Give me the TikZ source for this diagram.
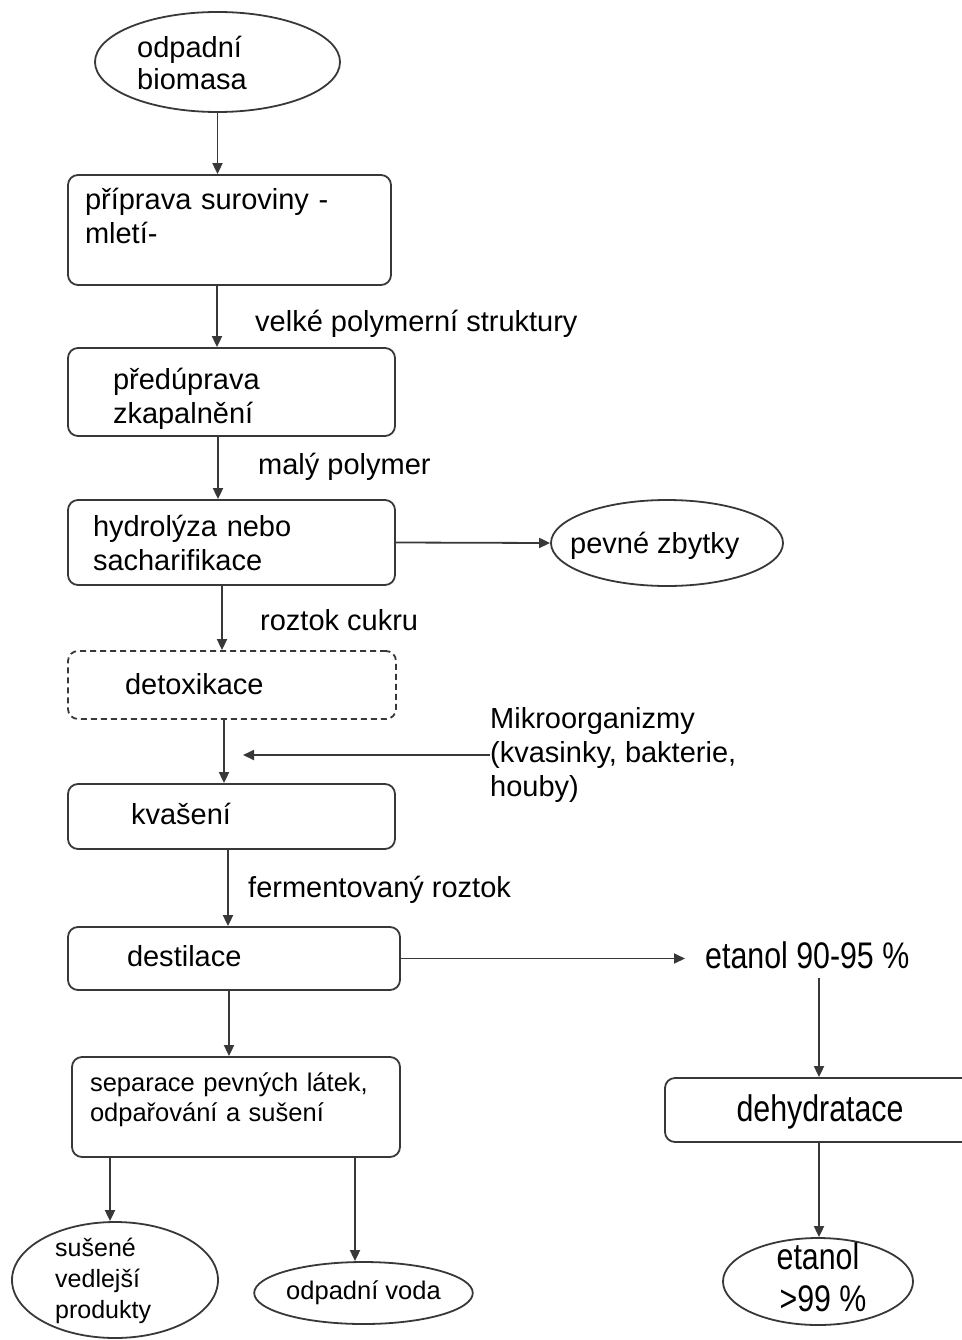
\documentclass[tikz,border=0pt]{standalone}
\usepackage{fontspec}
\setmainfont{Liberation Sans}
\newfontfamily\narrowfont{Liberation Sans}[FakeStretch=0.82]
\usetikzlibrary{arrows.meta,shapes.geometric}
\newcommand\fsmain{\fontsize{29}{34}\selectfont}
\newcommand\fsbio{\fontsize{29}{32}\selectfont}
\newcommand\fssmall{\fontsize{25.5}{30}\selectfont}
\newcommand\fssus{\fontsize{25}{31}\selectfont}
\newcommand\fsnarrow{\narrowfont\fontsize{37}{42}\selectfont}
\begin{document}
\begin{tikzpicture}[x=1pt,y=-1pt,
  lineclr/.style={draw=black!78, line width=1.8pt},
  box/.style={lineclr, rectangle, rounded corners=10pt, align=left, font=\fsmain, inner ysep=0pt},
  ell/.style={lineclr, ellipse, inner sep=0pt},
  txt/.style={inner sep=0pt, font=\fsmain, text=black},
  arr/.style={draw=black!78, line width=1.8pt, -{Triangle[length=11pt,width=10pt]}}
]
\useasboundingbox (0,0) rectangle (961,1340);

% column coordinates
\coordinate (x110) at (110,0);
\coordinate (x217) at (217,0);
\coordinate (x218) at (218,0);
\coordinate (x222) at (222,0);
\coordinate (x224) at (224,0);
\coordinate (x228) at (228,0);
\coordinate (x229) at (229,0);
\coordinate (x355) at (355,0);
\coordinate (x819) at (819,0);

% main column
\node[ell, minimum width=245, minimum height=100] (bio) at (217.5,62) {};
\node[txt, font=\fsbio, anchor=base west, align=left] (biot) at (137,90) {odpadní\\biomasa};

\node[box, minimum width=323, minimum height=110, text width=289, inner xsep=17] (prip) at (229.5,230) {příprava suroviny -\\mletí-\\[-6pt]\mbox{}};

\node[box, minimum width=327, minimum height=88, text width=237, inner xsep=45] (pred) at (231.5,392) {předúprava\\zkapalnění\\[-42pt]\mbox{}};

\node[box, minimum width=327, minimum height=85, text width=277, inner xsep=25] (hydro) at (231.5,542.5) {hydrolýza nebo\\sacharifikace};

\node[box, dash pattern=on 6pt off 4pt, minimum width=328, minimum height=68, text width=214, inner xsep=57, text height=25, text depth=6] (detox) at (232,685) {detoxikace};

\node[box, minimum width=327, minimum height=65, text width=201, inner xsep=63, text height=21, text depth=6] (kvas) at (231.5,816.5) {kvašení};

\node[box, minimum width=332, minimum height=63, text width=214, inner xsep=59, text height=22, text depth=6] (dest) at (234,958.5) {destilace};

\node[box, font=\fssmall, minimum width=328, minimum height=100, text width=292, inner xsep=18] (sep) at (236,1107) {separace pevných látek,\\odpařování a sušení\\[-10pt]\mbox{}};

% side nodes
\node[ell, minimum width=232, minimum height=86] (pevne) at (667,543) {};
\node[txt, anchor=base west] (pevnet) at (570,553) {pevné zbytky};

\node[txt, anchor=base west, align=left] (mik) at (490,796) {Mikroorganizmy\\(kvasinky, bakterie,\\houby)};
\coordinate (mikend) at (243,755);

\node[txt, font=\fsnarrow, anchor=base west, inner xsep=20pt, inner ysep=9pt] (et1) at (685,968) {etanol 90-95 \%};

\node[box, font=\fsnarrow, align=center, minimum width=310, minimum height=64, inner sep=0pt, text height=31, text depth=8] (dehy) at (820,1110) {dehydratace};

\node[ell, minimum width=190, minimum height=87] (et99) at (818,1281.5) {};
\node[txt, font=\fsnarrow, align=center] (et99t) at (818,1277.5) {etanol\\\hspace*{10pt}>99 \%};

\node[ell, minimum width=206, minimum height=116] (sus) at (115,1280) {};
\node[txt, font=\fssus, anchor=base west, align=left] (sust) at (55,1318) {sušené\\vedlejší\\produkty};

\node[ell, font=\fssmall, minimum width=217, minimum height=62, text height=18, text depth=5] (voda) at (363.5,1293) {odpadní voda};

% edge labels
\node[txt, anchor=base west] (l1) at (255,331) {velké polymerní struktury};
\node[txt, anchor=base west] (l2) at (258,474) {malý polymer};
\node[txt, anchor=base west] (l3) at (260,630) {roztok cukru};
\node[txt, anchor=base west] (l4) at (248,897) {fermentovaný roztok};

% connectors
\draw[arr] (bio.south) -- (prip.north -| bio.south);
\draw[arr] (prip.south -| x217) -- (pred.north -| x217);
\draw[arr] (pred.south -| x218) -- (hydro.north -| x218);
\draw[arr] (hydro.east) -- (pevne.west);
\draw[arr] (hydro.south -| x222) -- (detox.north -| x222);
\draw[arr] (detox.south -| x224) -- (kvas.north -| x224);
\draw[arr] (mik.west |- mikend) -- (mikend);
\draw[arr] (kvas.south -| x228) -- (dest.north -| x228);
\draw[arr] (dest.east) -- (dest.east -| et1.west);
\draw[arr] (dest.south -| x229) -- (sep.north -| x229);
\draw[arr] (sep.south -| x110) -- (sus.north -| x110);
\draw[arr] (sep.south -| x355) -- (voda.north -| x355);
\draw[arr] (et1.south -| x819) -- (dehy.north -| x819);
\draw[arr] (dehy.south -| x819) -- (et99.north -| x819);
\end{tikzpicture}
\end{document}
